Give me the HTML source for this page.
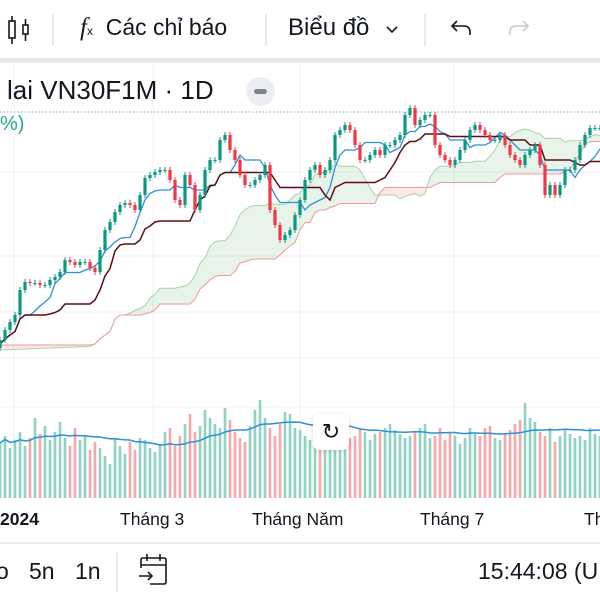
<!DOCTYPE html>
<html><head><meta charset="utf-8">
<style>
body{margin:0;width:600px;height:600px;overflow:hidden;background:#fff;font-family:"Liberation Sans","Noto Sans CJK SC",sans-serif;color:#131722;position:relative}
.t{position:absolute;white-space:nowrap}
</style></head><body>
<div class="t" style="left:0;top:0;width:600px;height:58px"></div>
<svg class="t" style="left:0;top:0" width="600" height="600">
  <g stroke="#131722" stroke-width="1.6" fill="none">
    <rect x="9" y="21" width="6" height="17"/><line x1="12" y1="16" x2="12" y2="21"/><line x1="12" y1="38" x2="12" y2="44"/>
    <rect x="23" y="25" width="5" height="9"/><line x1="25.5" y1="19" x2="25.5" y2="25"/><line x1="25.5" y1="34" x2="25.5" y2="41"/>
  </g>
  <line x1="53" y1="14" x2="53" y2="46" stroke="#e0e3eb" stroke-width="1.5"/>
  <line x1="266" y1="14" x2="266" y2="46" stroke="#e0e3eb" stroke-width="1.5"/>
  <line x1="425" y1="14" x2="425" y2="46" stroke="#e0e3eb" stroke-width="1.5"/>
  <path d="M470 35 V32 Q470 26 464 26 H452 M457 21 L452 26 L457 31" stroke="#131722" stroke-width="1.6" fill="none"/>
  <path d="M510 35 V32 Q510 26 516 26 H528 M523 21 L528 26 L523 31" stroke="#c8cbd3" stroke-width="1.6" fill="none"/>
  <path d="M387 27 L392 32 L397 27" stroke="#131722" stroke-width="1.6" fill="none"/>
  <rect x="0" y="58" width="600" height="5" fill="#e6e8ee"/>
  <g id="grid" stroke="#f0f1f4" stroke-width="1">
    <line x1="14" y1="63" x2="14" y2="500"/><line x1="153" y1="63" x2="153" y2="500"/><line x1="300" y1="63" x2="300" y2="500"/><line x1="454" y1="63" x2="454" y2="500"/>
    <line x1="0" y1="172" x2="600" y2="172"/><line x1="0" y1="256" x2="600" y2="256"/><line x1="0" y1="312" x2="600" y2="312"/><line x1="0" y1="358" x2="600" y2="358"/><line x1="0" y1="407" x2="600" y2="407"/>
  </g>
  <line x1="0" y1="112" x2="600" y2="112" stroke="#8aa" stroke-width="1" stroke-dasharray="1.5,2"/>
  <g id="cloud"></g><g id="vol"></g><g id="lines"></g><g id="candles"></g>
  <line x1="0" y1="543" x2="600" y2="543" stroke="#e6e8ee" stroke-width="1.5"/>
  <line x1="117" y1="553" x2="117" y2="592" stroke="#e0e3eb" stroke-width="1.5"/>
  <g stroke="#131722" stroke-width="1.6" fill="none">
    <path d="M141 568 V560 Q141 558 143 558 H164 Q166 558 166 560 V582 Q166 584 164 584 H150"/><line x1="141" y1="565" x2="166" y2="565"/><line x1="147" y1="554" x2="147" y2="561"/><line x1="160" y1="554" x2="160" y2="561"/><path d="M139 576 H152 M148 572 L152 576 L148 580"/>
  </g>
</svg>
<div class="t" style="left:80px;top:14px;font-size:23px"><i style="font-family:'Liberation Serif',serif;font-size:25px">f</i><span style="font-size:12px">x</span>&nbsp;&nbsp;Các chỉ báo</div>
<div class="t" style="left:288px;top:14px;font-size:24px">Biểu đồ</div>
<div class="t" style="left:7px;top:75px;font-size:26px">lai VN30F1M · 1D</div>
<div class="t" style="left:246px;top:77px;width:29px;height:29px;border-radius:50%;background:#eceef2"><div style="position:absolute;left:8px;top:12px;width:13px;height:5px;border-radius:3px;background:#808590"></div></div>
<div class="t" style="left:0;top:113px;font-size:20px;color:#22ab94">%)</div>
<div class="t" style="left:313px;top:414px;width:36px;height:36px;background:#fff;border-radius:6px;box-shadow:0 1px 4px rgba(0,0,0,.15);font-size:22px;text-align:center;line-height:36px">↻</div>
<div class="t" style="left:0;top:509px;font-size:17.5px;font-weight:bold">2024</div>
<div class="t" style="left:120px;top:509px;font-size:17.5px">Tháng 3</div>
<div class="t" style="left:252px;top:509px;font-size:17.5px">Tháng Năm</div>
<div class="t" style="left:420px;top:509px;font-size:17.5px">Tháng 7</div>
<div class="t" style="left:584px;top:509px;font-size:17.5px">Th</div>
<div class="t" style="left:-4px;top:558px;font-size:23px">o</div>
<div class="t" style="left:29px;top:558px;font-size:23px">5n</div>
<div class="t" style="left:75px;top:558px;font-size:23px">1n</div>
<div class="t" style="left:478px;top:558px;font-size:23px">15:44:08 (U</div>
<script>
const closes=[1160,1170,1178,1185,1210,1218,1217,1217,1215,1215,1220,1223,1228,1240,1238,1235,1238,1238,1232,1228,1250,1270,1278,1288,1295,1297,1295,1290,1305,1322,1325,1328,1330,1330,1320,1300,1295,1325,1315,1290,1305,1330,1340,1340,1360,1365,1350,1340,1325,1315,1315,1320,1325,1335,1290,1275,1260,1265,1270,1285,1300,1320,1330,1335,1325,1330,1340,1365,1370,1375,1370,1355,1340,1340,1345,1350,1345,1355,1355,1360,1365,1385,1392,1375,1380,1385,1385,1355,1345,1340,1335,1340,1350,1360,1370,1375,1370,1365,1360,1360,1365,1355,1345,1340,1335,1345,1350,1355,1335,1305,1315,1305,1315,1330,1330,1340,1355,1365,1372,1372,1372];
const volumes=[55,62,50,58,66,52,60,80,64,72,58,66,76,60,52,70,58,62,48,56,50,42,34,60,52,44,56,48,60,58,50,46,54,66,70,52,62,74,84,66,72,88,80,74,70,90,78,66,60,56,72,88,98,80,70,62,74,86,84,70,68,62,58,60,72,80,76,66,64,58,60,62,70,66,58,64,66,70,74,68,64,60,62,66,70,74,60,62,70,58,66,62,54,60,70,64,62,70,72,60,58,64,68,74,78,95,80,76,66,62,70,56,62,68,64,60,62,58,70,64,62];
const S=5, N=closes.length;
const xs=i=>i*S;
const py=p=>1500-p;
const vy=v=>498-v;
const NS='http://www.w3.org/2000/svg';
function el(t,a,p){const e=document.createElementNS(NS,t);for(const k in a)e.setAttribute(k,a[k]);p.appendChild(e);return e;}
const opens=closes.map((c,i)=>i?closes[i-1]:c-8);
const highs=closes.map((c,i)=>Math.max(c,opens[i])+3);
const lows=closes.map((c,i)=>Math.min(c,opens[i])-3);
function hl(i,n){let h=-1e9,l=1e9;for(let k=Math.max(0,i-n+1);k<=i;k++){h=Math.max(h,highs[k]);l=Math.min(l,lows[k]);}return (h+l)/2;}
const ten=closes.map((_,i)=>hl(i,7)), kij=closes.map((_,i)=>hl(i,19));
const spanA=[],spanB=[];
for(let i=0;i<N;i++){const j=i-19;const jj=Math.max(0,j);spanA.push(j<0?1150+(j+19)*0.2:(ten[jj]+kij[jj])/2);spanB.push(j<0?1155:hl(jj,37));}
const cloud=document.getElementById('cloud');
for(let i=0;i<N-1;i++){
  const up=spanA[i]>=spanB[i];
  const p=el('polygon',{points:`${xs(i)},${py(spanA[i])} ${xs(i+1)},${py(spanA[i+1])} ${xs(i+1)},${py(spanB[i+1])} ${xs(i)},${py(spanB[i])}`,fill:up?'rgba(67,160,71,0.12)':'rgba(244,67,54,0.12)'},cloud);
  
  
}
function line(arr,col,w,name,par,yf){const e=el('polyline',{points:arr.map((v,i)=>xs(i)+','+yf(v)).join(' '),fill:'none',stroke:col,'stroke-width':w},par);}
line(spanA,'#a5d6a7',1,'senkou-span-a',cloud,py);
line(spanB,'#ef9a9a',1,'senkou-span-b',cloud,py);
const vol=document.getElementById('vol');
volumes.forEach((v,i)=>{const r=el('rect',{x:xs(i)-1.3,y:vy(v),width:2.6,height:v,fill:closes[i]>=opens[i]?'#8fd3c4':'#f5a7aa'},vol);});
const vma=volumes.map((_,i)=>{let s=0,c=0;for(let k=Math.max(0,i-19);k<=i;k++){s+=volumes[k];c++;}return s/c;});
line(vma,'#2f8fd8',1.5,'volume-ma',vol,vy);
const lines=document.getElementById('lines');
line(ten,'#2f8fd8',1.3,'tenkan-line',lines,py);
line(kij,'#5b0f14',1.5,'kijun-line',lines,py);
const cg=document.getElementById('candles');
closes.forEach((c,i)=>{const up=c>=opens[i];const col=up?'#089981':'#f23645';
  const w=el('line',{x1:xs(i),x2:xs(i),y1:py(highs[i]),y2:py(lows[i]),stroke:col,'stroke-width':1},cg);
  const t=py(Math.max(c,opens[i])),b=py(Math.min(c,opens[i]));
  const r=el('rect',{x:xs(i)-1.6,y:t,width:3.2,height:Math.max(1,b-t),fill:col},cg);});
</script>
</body></html>
